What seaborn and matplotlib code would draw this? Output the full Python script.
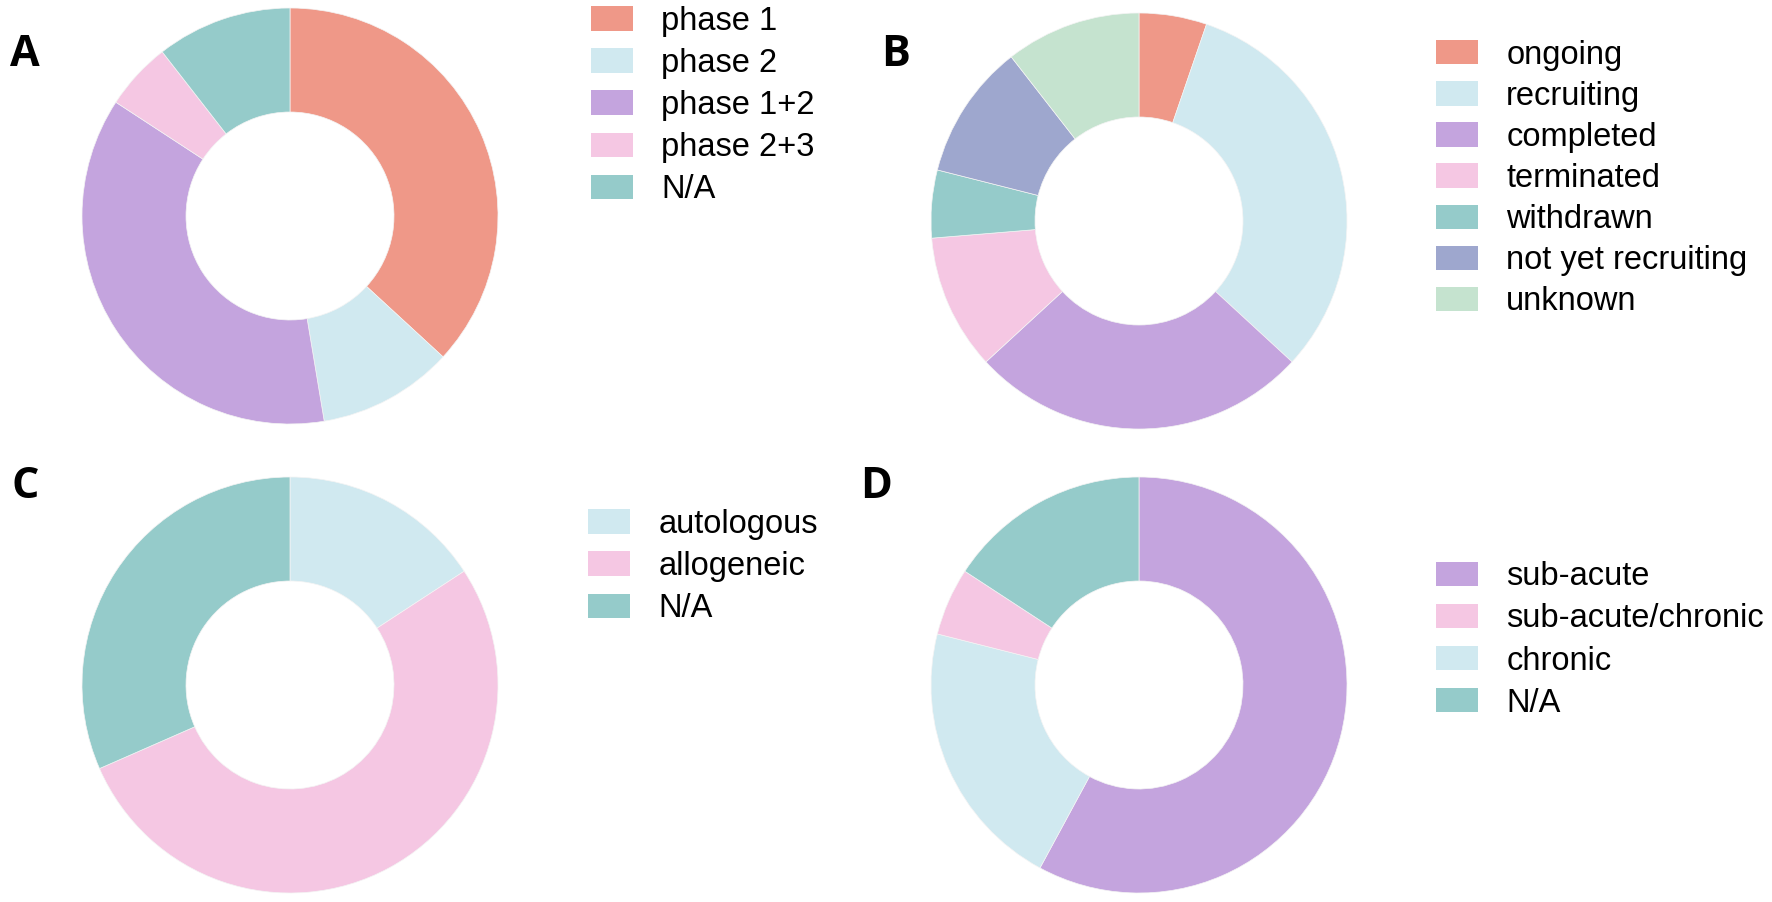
import matplotlib
matplotlib.use("Agg")
import matplotlib.pyplot as plt
import seaborn as sns
from matplotlib.patches import Patch

sns.set_style("white")
plt.rcParams['font.family'] = ['Liberation Sans', 'DejaVu Sans']
plt.rcParams['text.color'] = 'black'

# data (counts, 19 trials per panel)
phase_labels = ["phase 1", "phase 2", "phase 1+2", "phase 2+3", "N/A"]
phase_counts = [7, 2, 7, 1, 2]

status_labels = ["ongoing", "recruiting", "completed", "terminated",
                 "withdrawn", "not yet recruiting", "unknown"]
status_counts = [1, 6, 5, 2, 1, 2, 2]

source_labels = ["autologous", "allogeneic", "N/A"]
source_counts = [3, 10, 6]

# wedge order clockwise from the top; legend lists them differently
stage_labels = ["sub-acute", "chronic", "sub-acute/chronic", "N/A"]
stage_counts = [11, 4, 1, 3]
stage_legend_order = ["sub-acute", "sub-acute/chronic", "chronic", "N/A"]

colors = {
    "salmon": "#EF9888",
    "lightblue": "#D0E9F0",
    "purple": "#C4A4DE",
    "pink": "#F5C7E3",
    "teal": "#95CBCA",
    "slate": "#9EA7CE",
    "green": "#C5E3CF",
}
phase_colors = [colors[c] for c in ["salmon", "lightblue", "purple", "pink", "teal"]]
status_colors = [colors[c] for c in ["salmon", "lightblue", "purple", "pink",
                                     "teal", "slate", "green"]]
source_colors = [colors[c] for c in ["lightblue", "pink", "teal"]]
stage_colors = [colors[c] for c in ["purple", "lightblue", "pink", "teal"]]

W, H = 1772, 902
fig = plt.figure(figsize=(W / 100, H / 100), dpi=100)

R = 208  # outer radius in pixels


def donut(cx, cy, values, cols, labels, letter, letter_xy, leg_x, leg_y,
          spacing=0.34, legend_order=None):
    ax = fig.add_axes([(cx - R) / W, 1 - (cy + R) / H, 2 * R / W, 2 * R / H])
    ax.pie(values, colors=cols, startangle=90, counterclock=False, radius=1,
           wedgeprops=dict(width=0.5, edgecolor="#f4f4f4", linewidth=0.5))
    ax.set_xlim(-1, 1)
    ax.set_ylim(-1, 1)
    ax.axis("off")
    order = legend_order if legend_order else labels
    handles = [Patch(facecolor=cols[labels.index(l)], edgecolor="none", label=l)
               for l in order]
    fig.legend(handles=handles, loc="center left",
               bbox_to_anchor=(leg_x / W, 1 - leg_y / H),
               frameon=False, fontsize=23.5, borderpad=0, borderaxespad=0,
               handlelength=1.29, handleheight=0.77, handletextpad=0.86,
               labelspacing=spacing, labelcolor="black")
    fig.text(letter_xy[0] / W, 1 - letter_xy[1] / H, letter,
             fontsize=31, fontweight="bold", family=["Open Sans", "DejaVu Sans"],
             ha="center", va="center", color="black")


donut(290, 216, phase_counts, phase_colors, phase_labels, "A", (25, 54), 591, 105.5)
donut(1139, 221, status_counts, status_colors, status_labels, "B", (896, 54), 1436, 178.5,
      spacing=0.31)
donut(290, 685, source_counts, source_colors, source_labels, "C", (25, 486), 588, 566.5)
donut(1139, 685, stage_counts, stage_colors, stage_labels, "D", (876, 486), 1436, 640,
      legend_order=stage_legend_order)

fig.savefig("out.png", dpi=100, facecolor="white")
